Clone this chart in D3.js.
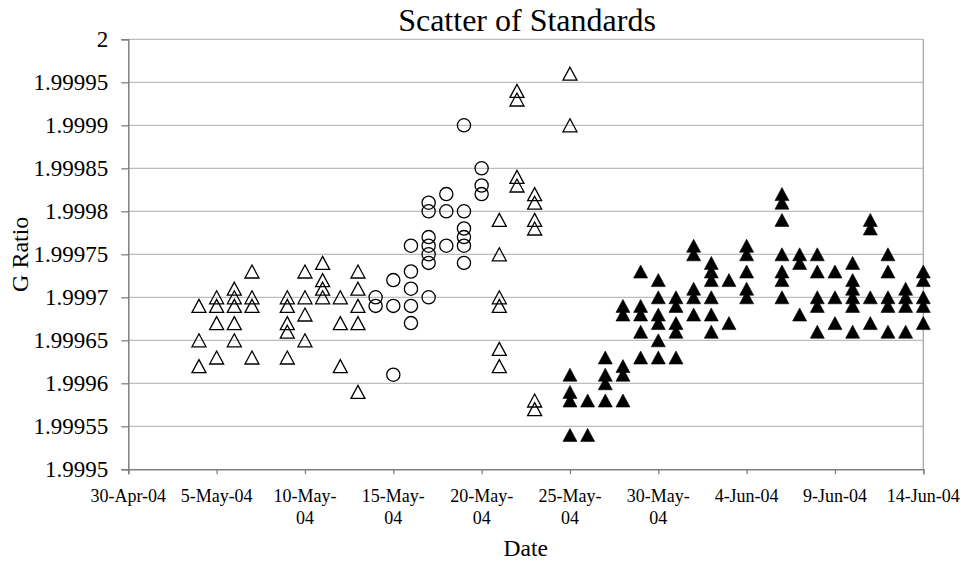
<!DOCTYPE html>
<html>
<head>
<meta charset="utf-8">
<script src="https://cdn.jsdelivr.net/npm/d3@7"></script>
<style>
  body { margin: 0; background: #fff; }
</style>
</head>
<body>
<div id="chart"></div>
<script>
// open triangles: [date, values on that date]
const openTriangles = [
  ["2004-05-04", [1.99969, 1.99965, 1.99962]],
  ["2004-05-05", [1.9997, 1.99969, 1.99967, 1.99963]],
  ["2004-05-06", [1.99971, 1.9997, 1.99969, 1.99967, 1.99965]],
  ["2004-05-07", [1.99973, 1.9997, 1.99969, 1.99963]],
  ["2004-05-09", [1.9997, 1.99969, 1.99967, 1.99966, 1.99963]],
  ["2004-05-10", [1.99973, 1.9997, 1.99968, 1.99965]],
  ["2004-05-11", [1.99974, 1.99972, 1.99971, 1.9997]],
  ["2004-05-12", [1.9997, 1.99967, 1.99962]],
  ["2004-05-13", [1.99973, 1.99971, 1.99969, 1.99967, 1.99959]],
  ["2004-05-21", [1.99979, 1.99975, 1.9997, 1.99969, 1.99964, 1.99962]],
  ["2004-05-22", [1.99994, 1.99993, 1.99984, 1.99983]],
  ["2004-05-23", [1.99982, 1.99981, 1.99979, 1.99978, 1.99958, 1.99957]],
  ["2004-05-25", [1.99996, 1.9999]]
];

// open circles
const openCircles = [
  ["2004-05-14", [1.9997, 1.99969]],
  ["2004-05-15", [1.99972, 1.99969, 1.99961]],
  ["2004-05-16", [1.99976, 1.99973, 1.99971, 1.99969, 1.99967]],
  ["2004-05-17", [1.99981, 1.9998, 1.99977, 1.99976, 1.99975, 1.99974, 1.9997]],
  ["2004-05-18", [1.99982, 1.9998, 1.99976]],
  ["2004-05-19", [1.9999, 1.9998, 1.99978, 1.99977, 1.99976, 1.99974]],
  ["2004-05-20", [1.99985, 1.99983, 1.99982]]
];

// filled triangles
const filledTriangles = [
  ["2004-05-25", [1.99961, 1.99959, 1.99958, 1.99954]],
  ["2004-05-26", [1.99958, 1.99954]],
  ["2004-05-27", [1.99963, 1.99961, 1.9996, 1.99958]],
  ["2004-05-28", [1.99969, 1.99968, 1.99962, 1.99961, 1.99958]],
  ["2004-05-29", [1.99973, 1.99969, 1.99968, 1.99966, 1.99963]],
  ["2004-05-30", [1.99972, 1.9997, 1.99968, 1.99967, 1.99965, 1.99963]],
  ["2004-05-31", [1.9997, 1.99969, 1.99967, 1.99966, 1.99963]],
  ["2004-06-01", [1.99976, 1.99975, 1.99971, 1.9997, 1.99968]],
  ["2004-06-02", [1.99974, 1.99973, 1.99972, 1.9997, 1.99968, 1.99966]],
  ["2004-06-03", [1.99972, 1.99967]],
  ["2004-06-04", [1.99976, 1.99975, 1.99973, 1.99971, 1.9997]],
  ["2004-06-06", [1.99982, 1.99981, 1.99979, 1.99975, 1.99973, 1.99972, 1.9997]],
  ["2004-06-07", [1.99975, 1.99974, 1.99968]],
  ["2004-06-08", [1.99975, 1.99973, 1.9997, 1.99969, 1.99966]],
  ["2004-06-09", [1.99973, 1.9997, 1.99967]],
  ["2004-06-10", [1.99974, 1.99972, 1.99971, 1.9997, 1.99969, 1.99966]],
  ["2004-06-11", [1.99979, 1.99978, 1.9997, 1.99967]],
  ["2004-06-12", [1.99975, 1.99973, 1.9997, 1.99969, 1.99966]],
  ["2004-06-13", [1.99971, 1.9997, 1.99969, 1.99966]],
  ["2004-06-14", [1.99973, 1.99972, 1.9997, 1.99969, 1.99967]]
];

const xTickDates = ["2004-04-30", "2004-05-05", "2004-05-10", "2004-05-15", "2004-05-20",
  "2004-05-25", "2004-05-30", "2004-06-04", "2004-06-09", "2004-06-14"];
const xTickLabels = [["30-Apr-04"], ["5-May-04"], ["10-May-", "04"], ["15-May-", "04"],
  ["20-May-", "04"], ["25-May-", "04"], ["30-May-", "04"], ["4-Jun-04"], ["9-Jun-04"], ["14-Jun-04"]];
const yTicks = [1.9995, 1.99955, 1.9996, 1.99965, 1.9997, 1.99975, 1.9998, 1.99985, 1.9999, 1.99995, 2];

const width = 963;
const height = 563;
const plotLeft = 128.3, plotRight = 923.3, plotTop = 39.3, plotBottom = 469.3;
const serif = "Liberation Serif, Times New Roman, serif";

const parse = d3.utcParse("%Y-%m-%d");

const svg = d3.select("#chart")
  .append("svg")
  .attr("width", width)
  .attr("height", height)
  .attr("font-family", serif);

const x = d3.scaleUtc()
  .domain([parse(xTickDates[0]), parse(xTickDates[xTickDates.length - 1])])
  .range([plotLeft, plotRight]);

const y = d3.scaleLinear()
  .domain([1.9995, 2])
  .range([plotBottom, plotTop]);

// flatten [date, values] rows into points
function points(rows) {
  const out = [];
  for (const [d, vals] of rows) {
    for (const v of vals) out.push({ date: parse(d), value: v });
  }
  return out;
}

// ---- gridlines ----
svg.append("g")
  .selectAll("line")
  .data(yTicks.slice(1))
  .join("line")
  .attr("x1", plotLeft)
  .attr("x2", plotRight)
  .attr("y1", d => y(d))
  .attr("y2", d => y(d))
  .attr("stroke", "#bdbdbd")
  .attr("stroke-width", 1.3);

// right border
svg.append("line")
  .attr("x1", plotRight).attr("x2", plotRight)
  .attr("y1", plotTop).attr("y2", plotBottom)
  .attr("stroke", "#a8a8a8")
  .attr("stroke-width", 1.3);

// ---- y axis ----
const yAxis = svg.append("g")
  .attr("transform", `translate(${plotLeft},0)`)
  .call(d3.axisLeft(y)
    .tickValues(yTicks)
    .tickSize(7)
    .tickPadding(13)
    .tickFormat(d => String(+d.toFixed(5))))
  .attr("font-family", serif)
  .attr("font-size", 23);
yAxis.select(".domain").attr("stroke", "#808080").attr("stroke-width", 1.5);
yAxis.selectAll(".tick line").attr("stroke", "#808080").attr("stroke-width", 1.3);
yAxis.selectAll(".tick text").attr("fill", "#000");

// ---- x axis ----
const xAxis = svg.append("g")
  .attr("transform", `translate(0,${plotBottom})`)
  .call(d3.axisBottom(x)
    .tickValues(xTickDates.map(parse))
    .tickSize(5)
    .tickFormat(""));
xAxis.select(".domain").attr("stroke", "#808080").attr("stroke-width", 1.5);
xAxis.selectAll(".tick line").attr("stroke", "#808080").attr("stroke-width", 1.3);

const xLab = svg.append("g")
  .attr("font-size", 18)
  .selectAll("text")
  .data(xTickDates.map((d, i) => ({ date: parse(d), lines: xTickLabels[i] })))
  .join("text")
  .attr("text-anchor", "middle")
  .attr("x", d => x(d.date))
  .attr("y", 501.7);
xLab.selectAll("tspan")
  .data(d => d.lines.map(l => ({ l, x: x(d.date) })))
  .join("tspan")
  .attr("x", d => d.x)
  .attr("dy", (d, i) => i === 0 ? 0 : 22.3)
  .text(d => d.l);

// ---- titles ----
svg.append("text")
  .attr("x", 527)
  .attr("y", 31)
  .attr("text-anchor", "middle")
  .attr("font-size", 32)
  .text("Scatter of Standards");

svg.append("text")
  .attr("x", (plotLeft + plotRight) / 2)
  .attr("y", 556)
  .attr("text-anchor", "middle")
  .attr("font-size", 23.5)
  .text("Date");

svg.append("text")
  .attr("transform", `translate(28,${(plotTop + plotBottom) / 2}) rotate(-90)`)
  .attr("text-anchor", "middle")
  .attr("font-size", 24)
  .text("G Ratio");

// ---- markers ----
const tri = "M0,-6.5L7,6.5L-7,6.5Z";

svg.append("g")
  .selectAll("path")
  .data(points(openTriangles))
  .join("path")
  .attr("d", tri)
  .attr("transform", d => `translate(${x(d.date)},${y(d.value)})`)
  .attr("fill", "none")
  .attr("stroke", "#000")
  .attr("stroke-width", 1.3);

svg.append("g")
  .selectAll("circle")
  .data(points(openCircles))
  .join("circle")
  .attr("cx", d => x(d.date))
  .attr("cy", d => y(d.value))
  .attr("r", 6.6)
  .attr("fill", "none")
  .attr("stroke", "#000")
  .attr("stroke-width", 1.3);

svg.append("g")
  .selectAll("path")
  .data(points(filledTriangles))
  .join("path")
  .attr("d", tri)
  .attr("transform", d => `translate(${x(d.date)},${y(d.value)})`)
  .attr("fill", "#000")
  .attr("stroke", "#000")
  .attr("stroke-width", 0.6);
</script>
</body>
</html>
